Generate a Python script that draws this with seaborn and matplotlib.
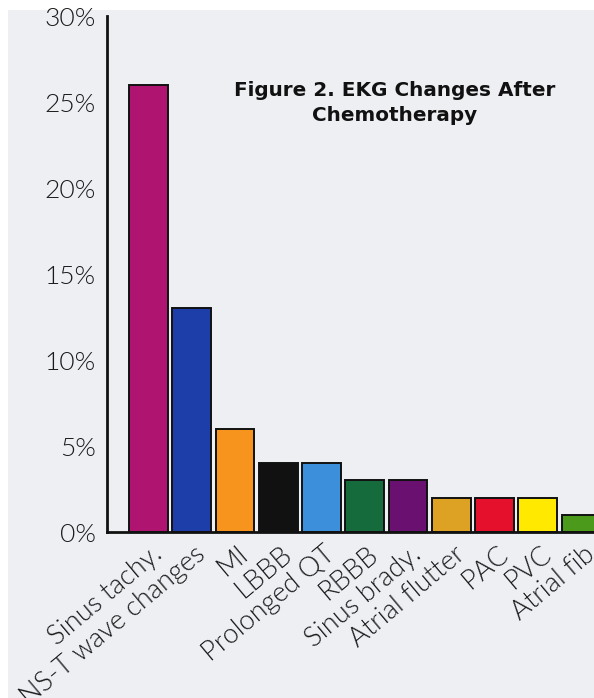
import matplotlib
matplotlib.use("Agg")
import matplotlib.pyplot as plt
import matplotlib.transforms as mtransforms
from matplotlib.patches import Rectangle
import seaborn as sns
import pandas as pd

categories = ["Sinus tachy.", "NS-T wave changes", "MI", "LBBB", "Prolonged QT",
              "RBBB", "Sinus brady.", "Atrial flutter", "PAC", "PVC", "Atrial fib"]
percent = [26, 13, 6, 4, 4, 3, 3, 2, 2, 2, 1]
bar_colors = ["#AE1470", "#1D3DA8", "#F7941E", "#111111", "#3C8FDA", "#156B3C",
              "#6A1071", "#DDA124", "#E5102B", "#FFE900", "#4B9A1B"]
y_ticks = [0, 5, 10, 15, 20, 25, 30]
y_tick_labels = ["0%", "5%", "10%", "15%", "20%", "25%", "30%"]
title = "Figure 2. EKG Changes After\nChemotherapy"

df = pd.DataFrame({"category": categories, "percent": percent})

sns.set_theme(style="white")
plt.rcParams["font.family"] = ["DejaVu Sans"]

label_font = dict(family="Lato", weight=300)

bg = "#EDEFF3"
fig = plt.figure(figsize=(5.94, 6.98), dpi=100)
fig.patch.set_facecolor("white")
fig.patches.append(Rectangle((8 / 594, 0), 1, 1 - 10 / 698, transform=fig.transFigure,
                             facecolor=bg, edgecolor="none", zorder=-10))

ax = fig.add_axes([107 / 594, (698 - 532) / 698, 1 - 107 / 594, (532 - 16) / 698])
ax.set_facecolor("none")

sns.barplot(data=df, x="category", y="percent", hue="category",
            palette=bar_colors, order=categories, hue_order=categories,
            legend=False, width=0.9, edgecolor="#111111", linewidth=1.4,
            saturation=1, ax=ax)

ax.set_xlim(-0.96, 10.3)
ax.set_ylim(0, 30)
ax.set_yticks(y_ticks)
ax.set_yticklabels(y_tick_labels, fontsize=19, color="#1a1a1a", **label_font)
ax.set_xlabel("")
ax.set_ylabel("")

for side in ["top", "right"]:
    ax.spines[side].set_visible(False)
for side in ["left", "bottom"]:
    ax.spines[side].set_color("#111111")
    ax.spines[side].set_linewidth(2)

ax.tick_params(axis="y", direction="in", length=18, width=2, color="#111111", pad=8)
ax.tick_params(axis="x", length=0, pad=4)

offset = mtransforms.ScaledTranslation(2 / 100, -4 / 100, fig.dpi_scale_trans)
ax.set_xticks(range(len(categories)))
ax.set_xticklabels(categories, rotation=40, ha="right", va="top",
                   rotation_mode="anchor", fontsize=19.5, color="#1a1a1a", **label_font)
for lab in ax.get_xticklabels():
    lab.set_transform(lab.get_transform() + offset)

fig.text(395 / 594, 1 - 81 / 698, title, ha="center", va="top", fontsize=14.4,
         fontweight="bold", color="#111111", linespacing=1.4)

fig.savefig("out.png", dpi=100, facecolor=fig.get_facecolor())
